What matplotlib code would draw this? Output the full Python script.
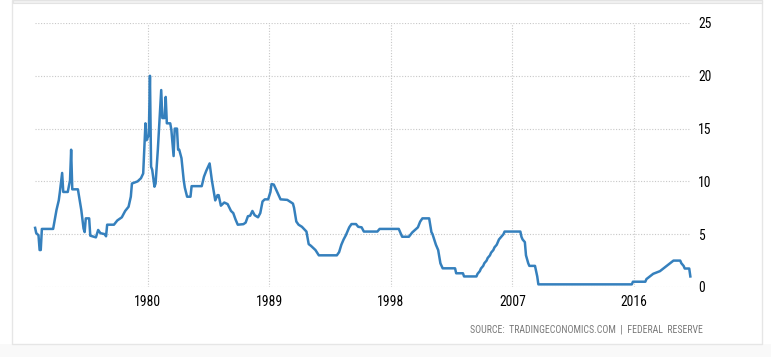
import matplotlib
matplotlib.use("Agg")
import matplotlib.pyplot as plt
from matplotlib.patches import Rectangle
from matplotlib import font_manager
import pandas as pd

dates = [
    "1971-09", "1971-10", "1971-12", "1972-01", "1972-02", "1972-03", "1973-01", "1973-04",
    "1973-06", "1973-07", "1973-09", "1973-10", "1974-02", "1974-04", "1974-05", "1974-06",
    "1974-11", "1974-12", "1975-02", "1975-04", "1975-05", "1975-06", "1975-09", "1975-10",
    "1976-03", "1976-05", "1976-07", "1976-11", "1976-12", "1977-01", "1977-07", "1977-10",
    "1978-02", "1978-05", "1978-08", "1978-10", "1978-11", "1979-04", "1979-07", "1979-09",
    "1979-11", "1979-12", "1980-02", "1980-03", "1980-04", "1980-05", "1980-07", "1980-08",
    "1980-10", "1981-01", "1981-02", "1981-04", "1981-05", "1981-06", "1981-09", "1981-10",
    "1981-12", "1982-01", "1982-03", "1982-04", "1982-05", "1982-07", "1982-09", "1982-10",
    "1982-12", "1983-03", "1983-04", "1984-01", "1984-03", "1984-05", "1984-08", "1984-10",
    "1985-01", "1985-03", "1985-04", "1985-06", "1985-09", "1985-12", "1986-03", "1986-05",
    "1986-07", "1986-09", "1987-02", "1987-04", "1987-06", "1987-08", "1987-10", "1987-12",
    "1988-03", "1988-05", "1988-07", "1988-09", "1988-12", "1989-02", "1989-03", "1989-05",
    "1989-08", "1989-11", "1990-05", "1990-10", "1990-11", "1991-01", "1991-03", "1991-06",
    "1991-10", "1991-12", "1992-02", "1992-06", "1992-09", "1994-01", "1994-03", "1994-05",
    "1994-07", "1994-09", "1994-12", "1995-02", "1995-06", "1995-08", "1995-11", "1996-01",
    "1997-01", "1997-03", "1998-08", "1998-11", "1999-05", "1999-08", "2000-01", "2000-03",
    "2000-05", "2000-11", "2001-01", "2001-02", "2001-05", "2001-07", "2001-09", "2001-11",
    "2002-10", "2002-11", "2003-05", "2003-06", "2004-05", "2004-06", "2004-08", "2004-09",
    "2004-11", "2004-12", "2005-02", "2005-03", "2005-05", "2005-06", "2005-08", "2005-09",
    "2005-11", "2005-12", "2006-01", "2006-03", "2006-05", "2006-06", "2007-08", "2007-09",
    "2007-10", "2007-12", "2008-01", "2008-03", "2008-04", "2008-09", "2008-10", "2008-11",
    "2008-12", "2015-11", "2015-12", "2016-11", "2016-12", "2017-03", "2017-06", "2017-12",
    "2018-03", "2018-06", "2018-09", "2018-12", "2019-06", "2019-07", "2019-09", "2019-10",
    "2020-02", "2020-03",
]
rates = [
    5.6, 5.1, 4.9, 3.5, 3.5, 5.5, 5.5, 7.3,
    8.2, 9.0, 10.8, 9.0, 9.0, 10.1, 13.0, 9.25,
    9.25, 8.6, 7.3, 5.55, 5.2, 6.5, 6.5, 4.86,
    4.7, 5.4, 5.1, 5.0, 4.8, 5.9, 5.9, 6.3,
    6.6, 7.2, 7.6, 8.55, 9.8, 10.0, 10.3, 10.75,
    15.5, 13.9, 14.4, 20.0, 11.4, 11.1, 9.5, 9.8,
    13.0, 18.65, 16.0, 16.0, 18.0, 15.5, 15.5, 14.9,
    12.4, 15.0, 15.0, 13.0, 13.0, 12.2, 10.1, 9.4,
    8.55, 8.55, 9.55, 9.55, 10.45, 11.0, 11.7, 10.1,
    8.2, 8.7, 8.7, 7.7, 8.0, 7.85, 7.2, 7.0,
    6.4, 5.9, 5.95, 6.1, 6.7, 6.75, 7.2, 6.8,
    6.6, 7.0, 8.1, 8.3, 8.3, 9.0, 9.75, 9.7,
    9.0, 8.3, 8.25, 7.9, 7.5, 6.2, 5.9, 5.7,
    5.25, 4.06, 3.9, 3.5, 3.0, 3.0, 3.3, 4.0,
    4.5, 4.9, 5.65, 5.96, 5.96, 5.7, 5.65, 5.25,
    5.25, 5.5, 5.5, 4.76, 4.76, 5.17, 5.65, 6.19,
    6.5, 6.5, 5.2, 5.0, 4.0, 3.5, 2.24, 1.77,
    1.77, 1.3, 1.3, 1.0, 1.0, 1.25, 1.5, 1.75,
    2.0, 2.25, 2.5, 2.75, 3.0, 3.25, 3.5, 3.75,
    4.0, 4.25, 4.5, 4.75, 5.0, 5.25, 5.25, 4.75,
    4.5, 4.25, 3.0, 2.25, 2.0, 2.0, 1.5, 1.0,
    0.25, 0.25, 0.5, 0.5, 0.75, 1.0, 1.25, 1.5,
    1.75, 2.0, 2.25, 2.5, 2.5, 2.25, 2.0, 1.75,
    1.75, 1.0,
]
tick_years = [1980, 1989, 1998, 2007, 2016]
y_ticks = [0, 5, 10, 15, 20, 25]
source_text = "SOURCE:  TRADINGECONOMICS.COM  |  FEDERAL  RESERVE"

dt = pd.to_datetime(dates, format="%Y-%m")
xs = dt.year + (dt.month - 1) / 12.0

# pick a condensed face if one is installed
names = {f.name for f in font_manager.fontManager.ttflist}
cond = None
for cand in ["Liberation Sans Narrow", "DejaVu Sans Condensed", "Roboto Condensed", "Open Sans Condensed"]:
    if cand in names:
        cond = cand
        break
label_font = dict(family=[cond or "DejaVu Sans", "DejaVu Sans"])
if cond is None:
    label_font["stretch"] = "condensed"

W, H = 771, 357
fig = plt.figure(figsize=(W / 100, H / 100), dpi=100)
fig.patch.set_facecolor("white")

fig.patches.append(Rectangle((0, 0), 1, 13 / H, transform=fig.transFigure,
                             facecolor="#f9f9f9", edgecolor="none", zorder=-5))
fig.patches.append(Rectangle((12 / W, 13 / H), 750 / W, (H - 13) / H, transform=fig.transFigure,
                             facecolor="white", edgecolor="#e6e6e6", lw=1.0, zorder=-4))
fig.patches.append(Rectangle((13 / W, (H - 3) / H), 749 / W, 3 / H, transform=fig.transFigure,
                             facecolor="#f1f1f1", edgecolor="#e3e3e3", lw=0.8, zorder=-3))

left, right, top, bottom = 35, 690, 23, 287
ax = fig.add_axes([left / W, 1 - bottom / H, (right - left) / W, (bottom - top) / H])
ax.set_facecolor("none")

x0 = 1980 - (147.7 - left) / 13.51
x1 = 1980 + (right - 147.7) / 13.51
ax.set_xlim(x0, x1)
ax.set_ylim(0, 25)

ax.plot(xs, rates, color="#3580bd", lw=1.8, solid_joinstyle="round", zorder=3, clip_on=False)

for s in ax.spines.values():
    s.set_visible(False)

ax.set_xticks(tick_years)
ax.set_xticklabels([str(t) for t in tick_years])
ax.set_yticks(y_ticks)
ax.set_yticklabels([str(t) for t in y_ticks])
ax.yaxis.tick_right()
ax.tick_params(axis="both", length=0, labelsize=9.5, colors="black")
ax.tick_params(axis="x", pad=6)
ax.tick_params(axis="y", pad=6)
for lab in ax.get_xticklabels() + ax.get_yticklabels():
    lab.set_fontproperties(font_manager.FontProperties(size=9.8, **label_font))

ax.grid(True, color="#c8c8c8", linestyle=(0, (1, 1.5)), lw=0.8, zorder=0)

fig.text(703 / W, 1 - 329 / H, source_text, ha="right", va="center",
         fontsize=7.1, color="#7a7a7a", **label_font)

fig.savefig("out.png", dpi=100)
